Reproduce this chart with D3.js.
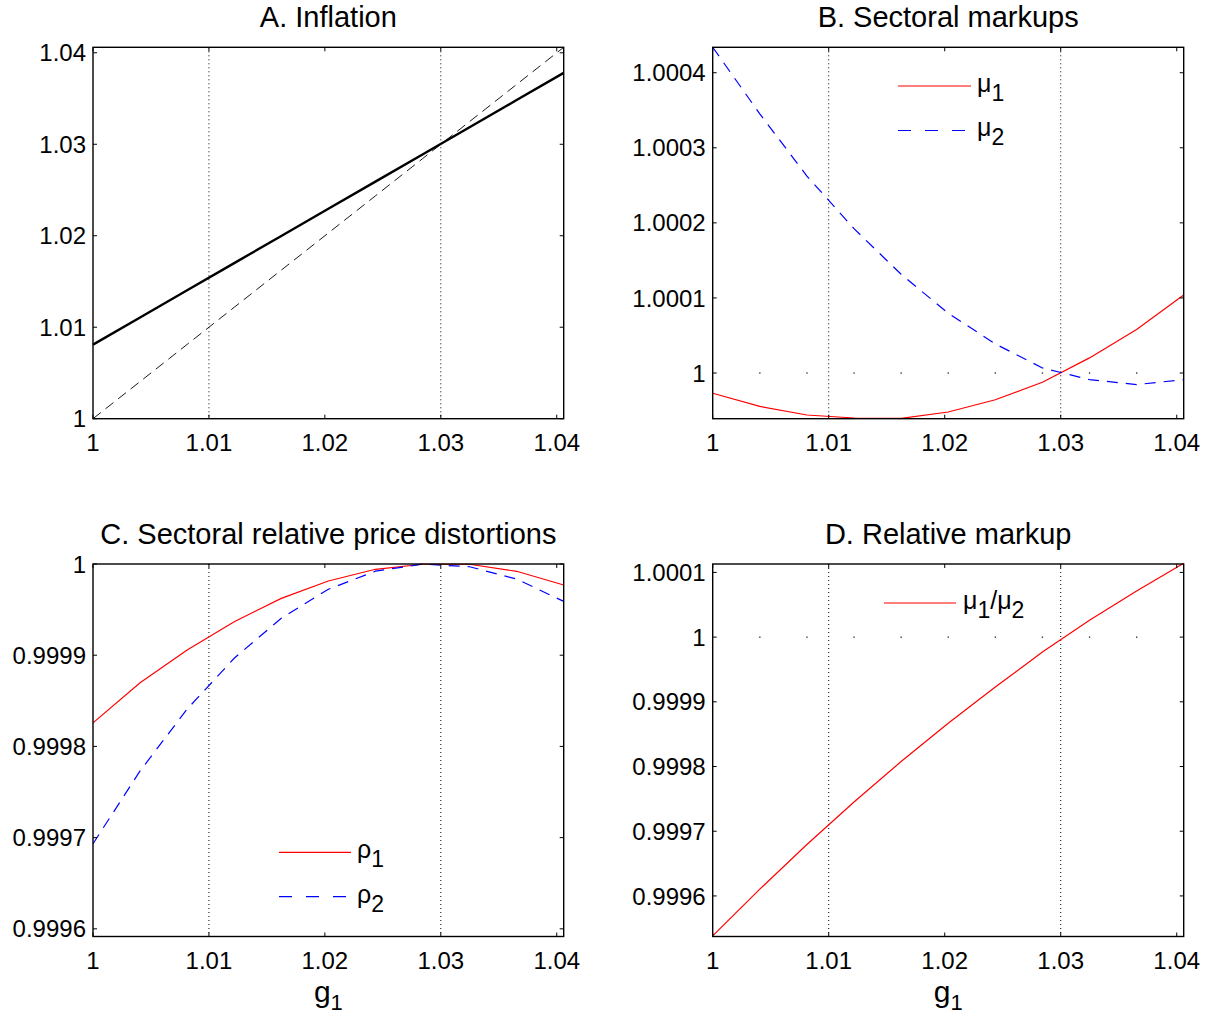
<!DOCTYPE html>
<html lang="en">
<head>
<meta charset="UTF-8">
<title>Inflation, markups and relative price distortions</title>
<style>
  body { margin: 0; background: #fff; }
  svg text { font-family: "Liberation Sans", Arial, Helvetica, sans-serif; fill: #000; }
  .tick-label { font-size: 24px; }
  .title { font-size: 29px; }
  .legend-text { font-size: 25px; }
  .xlabel { font-size: 30px; }
  .frame { fill: none; stroke: #000; stroke-width: 1.4; }
  .tick { stroke: #000; stroke-width: 1; }
  .vref { stroke: #000; stroke-width: 1; stroke-dasharray: 1,3; }
</style>
<script src="https://d3js.org/d3.v7.min.js"></script>
</head>
<body>
<script>
// g1 grid (x for every panel)
const g1 = [1, 1.00406, 1.00812, 1.01218, 1.01624, 1.0203, 1.02436, 1.02842, 1.03248, 1.03654, 1.0406];

// A. Inflation
const inflation = [1.0081, 1.01107, 1.01404, 1.01701, 1.01998, 1.02295, 1.02592, 1.02889, 1.03186, 1.03483, 1.0378];
const inflation45 = [1, 1.00406, 1.00812, 1.01218, 1.01624, 1.0203, 1.02436, 1.02842, 1.03248, 1.03654, 1.0406];

// B. Sectoral markups
const mu1 = [0.999973, 0.9999555, 0.999944, 0.99994, 0.9999395, 0.999948, 0.9999644, 0.9999876, 1.0000201, 1.000058, 1.0001039];
const mu2 = [1.000434, 1.0003452, 1.0002624, 1.0001923, 1.0001315, 1.0000797, 1.0000388, 1.0000067, 0.9999912, 0.9999845, 0.9999912];

// C. Sectoral relative price distortions
const rho1 = [0.9998258, 0.9998697, 0.9999056, 0.9999367, 0.9999623, 0.9999814, 0.9999942, 0.9999997, 0.9999997, 0.999992, 0.999977];
const rho2 = [0.9996933, 0.9997731, 0.9998409, 0.9998967, 0.9999405, 0.9999723, 0.9999921, 0.9999999, 0.999997, 0.9999835, 0.999959];

// D. Relative markup
const muRatio = [0.9995383, 0.9996105, 0.9996795, 0.9997452, 0.9998077, 0.9998669, 0.9999228, 0.999977, 1.000026, 1.0000712, 1.0001141];

// reference lines
const refX = [1.01, 1.03];
const refY = 1;

const xTicks = [1, 1.01, 1.02, 1.03, 1.04];
const xTickLabels = ["1", "1.01", "1.02", "1.03", "1.04"];

const W = 1210, H = 1019;
const svg = d3.select("body").append("svg")
  .attr("width", W)
  .attr("height", H);

svg.append("rect").attr("width", W).attr("height", H).attr("fill", "#fff");

const RED = "#ff0000", BLUE = "#0000ff";

const panels = [
  {
    title: "A. Inflation", left: 93, top: 47.3, w: 470.7, h: 371.4,
    yDomain: [1, 1.0406],
    yTicks: [1, 1.01, 1.02, 1.03, 1.04], yLabels: ["1", "1.01", "1.02", "1.03", "1.04"],
    series: [
      { values: inflation, color: "#000", width: 2.4 },
      { values: inflation45, color: "#000", width: 0.9, dash: "10,6" }
    ],
    hdots: false, legend: null, xlabel: false
  },
  {
    title: "B. Sectoral markups", left: 712.7, top: 47.3, w: 471, h: 371.4,
    yDomain: [0.9999391, 1.0004339],
    yTicks: [1, 1.0001, 1.0002, 1.0003, 1.0004], yLabels: ["1", "1.0001", "1.0002", "1.0003", "1.0004"],
    series: [
      { values: mu1, color: RED, width: 1.2 },
      { values: mu2, color: BLUE, width: 1.2, dash: "11,8" }
    ],
    hdots: true,
    legend: { x1: 898, x2: 971, y: 86, step: 44.5, tx: 977,
      items: [
        { parts: [["μ", 0], ["1", 1]], color: RED },
        { parts: [["μ", 0], ["2", 1]], color: BLUE, dash: "13,14" }
      ] },
    xlabel: false
  },
  {
    title: "C. Sectoral relative price distortions", left: 93, top: 564, w: 470.7, h: 372.5,
    yDomain: [0.9995916, 1],
    yTicks: [0.9996, 0.9997, 0.9998, 0.9999, 1], yLabels: ["0.9996", "0.9997", "0.9998", "0.9999", "1"],
    series: [
      { values: rho1, color: RED, width: 1.2 },
      { values: rho2, color: BLUE, width: 1.2, dash: "11,8" }
    ],
    hdots: false,
    legend: { x1: 279, x2: 351, y: 852.3, step: 44.4, tx: 357,
      items: [
        { parts: [["ρ", 0], ["1", 1]], color: RED },
        { parts: [["ρ", 0], ["2", 1]], color: BLUE, dash: "13,14" }
      ] },
    xlabel: true
  },
  {
    title: "D. Relative markup", left: 712.7, top: 564, w: 471, h: 372.5,
    yDomain: [0.9995373, 1.000113],
    yTicks: [0.9996, 0.9997, 0.9998, 0.9999, 1, 1.0001], yLabels: ["0.9996", "0.9997", "0.9998", "0.9999", "1", "1.0001"],
    series: [
      { values: muRatio, color: RED, width: 1.2 }
    ],
    hdots: true,
    legend: { x1: 884, x2: 956, y: 603, step: 0, tx: 963,
      items: [
        { parts: [["μ", 0], ["1", 1], ["/", 0], ["μ", 0], ["2", 1]], color: RED }
      ] },
    xlabel: true
  }
];

const tickLen = 4;

panels.forEach(p => {
  const g = svg.append("g").attr("transform", `translate(${p.left},${p.top})`);

  const x = d3.scaleLinear().domain([g1[0], g1[g1.length - 1]]).range([0, p.w]);
  const y = d3.scaleLinear().domain(p.yDomain).range([p.h, 0]);

  // title
  g.append("text")
    .attr("class", "title")
    .attr("x", p.w / 2)
    .attr("y", -20.5)
    .attr("text-anchor", "middle")
    .text(p.title);

  // vertical reference lines
  g.selectAll(".vref")
    .data(refX)
    .enter()
    .append("line")
    .attr("class", "vref")
    .attr("x1", d => x(d)).attr("x2", d => x(d))
    .attr("y1", 0).attr("y2", p.h);

  // horizontal reference level, drawn as dots at the grid points
  if (p.hdots) {
    g.selectAll(".hdot")
      .data(g1.slice(1, -1))
      .enter()
      .append("rect")
      .attr("class", "hdot")
      .attr("x", d => x(d) - 0.6)
      .attr("y", y(refY) - 0.6)
      .attr("width", 1.3)
      .attr("height", 1.3)
      .attr("fill", "#222");
  }

  // series
  const line = d3.line()
    .x((d, i) => x(g1[i]))
    .y(d => y(d));

  p.series.forEach(s => {
    g.append("path")
      .datum(s.values)
      .attr("d", line)
      .attr("fill", "none")
      .attr("stroke", s.color)
      .attr("stroke-width", s.width)
      .attr("stroke-dasharray", s.dash || null);
  });

  // frame
  g.append("rect")
    .attr("class", "frame")
    .attr("width", p.w)
    .attr("height", p.h);

  // ticks, inward on all four sides
  xTicks.forEach(t => {
    g.append("line").attr("class", "tick")
      .attr("x1", x(t)).attr("x2", x(t)).attr("y1", p.h).attr("y2", p.h - tickLen);
    g.append("line").attr("class", "tick")
      .attr("x1", x(t)).attr("x2", x(t)).attr("y1", 0).attr("y2", tickLen);
  });
  p.yTicks.forEach(t => {
    g.append("line").attr("class", "tick")
      .attr("x1", 0).attr("x2", tickLen).attr("y1", y(t)).attr("y2", y(t));
    g.append("line").attr("class", "tick")
      .attr("x1", p.w).attr("x2", p.w - tickLen).attr("y1", y(t)).attr("y2", y(t));
  });

  // tick labels
  g.selectAll(".xtl")
    .data(xTicks)
    .enter()
    .append("text")
    .attr("class", "tick-label")
    .attr("x", d => x(d))
    .attr("y", p.h + 32)
    .attr("text-anchor", "middle")
    .text((d, i) => xTickLabels[i]);

  g.selectAll(".ytl")
    .data(p.yTicks)
    .enter()
    .append("text")
    .attr("class", "tick-label")
    .attr("x", -7)
    .attr("y", d => y(d) + 8.6)
    .attr("text-anchor", "end")
    .text((d, i) => p.yLabels[i]);

  // legend
  if (p.legend) {
    const L = p.legend;
    L.items.forEach((it, k) => {
      const ly = L.y + k * L.step - p.top;
      g.append("line")
        .attr("x1", L.x1 - p.left).attr("x2", L.x2 - p.left)
        .attr("y1", ly).attr("y2", ly)
        .attr("stroke", it.color)
        .attr("stroke-width", 1.2)
        .attr("stroke-dasharray", it.dash || null);
      const txt = g.append("text")
        .attr("class", "legend-text")
        .attr("x", L.tx - p.left)
        .attr("y", ly + 6);
      let low = false;
      it.parts.forEach(([s, sub]) => {
        const span = txt.append("tspan").text(s);
        if (sub && !low) { span.attr("dy", 9).style("font-size", "23px"); low = true; }
        else if (sub) { span.style("font-size", "23px"); }
        else if (!sub && low) { span.attr("dy", -9); low = false; }
      });
    });
  }

  // x label
  if (p.xlabel) {
    const t = g.append("text")
      .attr("class", "xlabel")
      .attr("x", p.w / 2)
      .attr("y", p.h + 65.5)
      .attr("text-anchor", "middle");
    t.append("tspan").text("g");
    t.append("tspan").attr("dy", 8).style("font-size", "22px").text("1");
  }
});
</script>
</body>
</html>
